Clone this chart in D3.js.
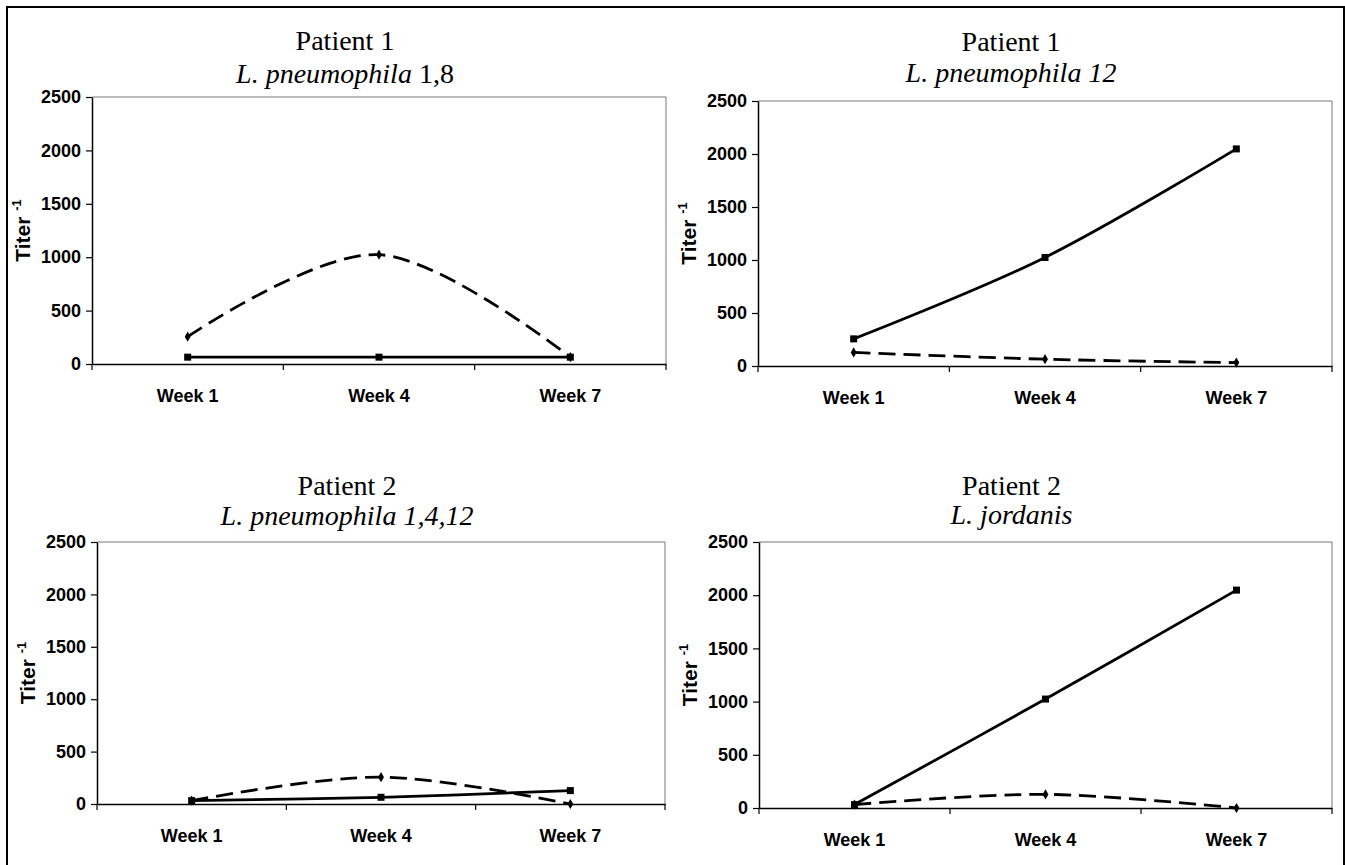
<!DOCTYPE html>
<html>
<head>
<meta charset="utf-8">
<script src="https://cdn.jsdelivr.net/npm/d3@7"></script>
<style>
	body { margin: 0; background: #fff; }
	svg text { fill: #000; }
	.tick-label { font-family: "Liberation Sans", Arial, sans-serif; font-weight: bold; font-size: 18px; }
	.title { font-family: "Liberation Serif", "Times New Roman", serif; font-size: 28px; }
</style>
</head>
<body>
<div class="container"></div>
<script>

const weeks = ["Week 1", "Week 4", "Week 7"];
const yTicks = [0, 500, 1000, 1500, 2000, 2500];

const patients = ["Patient 1", "Patient 1", "Patient 2", "Patient 2"];
const speciesItalic = ["L. pneumophila", "L. pneumophila 12", "L. pneumophila 1,4,12", "L. jordanis"];
const speciesRoman = [" 1,8", "", "", ""];

// solid line, square markers
const solidTiters = [
	[64, 64, 64],
	[256, 1024, 2048],
	[32, 64, 128],
	[32, 1024, 2048]
];
// dashed line, diamond markers
const dashedTiters = [
	[256, 1024, 64],
	[128, 64, 32],
	[32, 256, 0],
	[32, 128, 0]
];

// plot frames of the four panels (scan is not perfectly aligned)
const frames = [
	{ x0: 92, x1: 666, y0: 97, y1: 364, t1: 50, t2: 83 },
	{ x0: 758, x1: 1332, y0: 101, y1: 366, t1: 51, t2: 82 },
	{ x0: 97, x1: 665, y0: 542, y1: 804, t1: 495, t2: 525 },
	{ x0: 759, x1: 1332, y0: 542, y1: 808, t1: 495, t2: 524 }
];

const outerWidth = 1345;
const outerHeight = 865;

const svg = d3.select(".container")
				.append("svg")
					.attr("width", outerWidth)
					.attr("height", outerHeight);

// outer border of the figure
svg.append("rect")
	.attr("x", 7)
	.attr("y", 7)
	.attr("width", outerWidth - 8)
	.attr("height", outerHeight - 6)
	.style("fill", "none")
	.style("stroke", "#000")
	.style("stroke-width", 2);

const curve = d3.curveCardinal.tension(0);

frames.forEach(function(f, i) {

	const width = f.x1 - f.x0;
	const height = f.y1 - f.y0;

	const g = svg.append("g")
				.attr("class", "panel")
				.attr("transform", `translate(${f.x0},${f.y0})`);

	const scaleWeek = d3.scaleBand()
						.domain(weeks)
						.range([0, width]);

	const scaleTiter = d3.scaleLinear()
						.domain([0, 2500])
						.range([height, 0]);

	// plot frame (top / right light)
	g.append("path")
		.attr("d", `M0,0H${width}V${height}`)
		.style("fill", "none")
		.style("stroke", "#777")
		.style("stroke-width", 1);

	// y axis
	const yAxis = g.append("g")
		.call(d3.axisLeft(scaleTiter)
				.tickValues(yTicks)
				.tickFormat(d3.format("d"))
				.tickSize(6).tickPadding(5).tickSizeOuter(0));
	yAxis.select(".domain").style("stroke-width", 1.5);
	yAxis.selectAll(".tick line").style("stroke-width", 1.2);
	yAxis.selectAll(".tick text").attr("class", "tick-label").attr("fill", "#000");

	// x axis, labels in band centers, ticks on band edges
	const xAxis = g.append("g")
		.attr("transform", `translate(0,${height})`)
		.call(d3.axisBottom(scaleWeek).tickSize(0).tickPadding(25).tickSizeOuter(0));
	xAxis.select(".domain").style("stroke-width", 1.5);
	xAxis.selectAll(".tick text").attr("class", "tick-label").attr("fill", "#000");

	xAxis.selectAll(".edge")
		.data(weeks.map((d) => scaleWeek(d)).concat([width])).enter()
		.append("line")
			.attr("class", "edge")
			.attr("x1", (d) => d)
			.attr("x2", (d) => d)
			.attr("y2", 6)
			.style("stroke", "#000")
			.style("stroke-width", 1.2);

	// axis title
	const titleY = g.append("text")
		.attr("class", "tick-label")
		.attr("transform", `translate(${-62},${height / 2}) rotate(-90)`)
		.attr("text-anchor", "middle")
		.style("font-size", "21px");
	titleY.append("tspan").text("Titer ");
	titleY.append("tspan").text("-1").attr("dy", -9).style("font-size", "13px");

	// chart titles
	const cx = width / 2 - 34;
	g.append("text")
		.attr("class", "title")
		.attr("x", cx)
		.attr("y", f.t1 - f.y0)
		.attr("text-anchor", "middle")
		.text(patients[i]);

	const sub = g.append("text")
		.attr("class", "title")
		.attr("x", cx)
		.attr("y", f.t2 - f.y0)
		.attr("text-anchor", "middle");
	sub.append("tspan").style("font-style", "italic").text(speciesItalic[i]);
	if (speciesRoman[i]) sub.append("tspan").text(speciesRoman[i]);

	// series
	const line = d3.line()
		.x((d, k) => scaleWeek(weeks[k]) + scaleWeek.bandwidth() / 2)
		.y((d) => scaleTiter(d))
		.curve(curve);

	g.append("path")
		.datum(dashedTiters[i])
		.attr("d", line)
		.style("fill", "none")
		.style("stroke", "#000")
		.style("stroke-width", 2.8)
		.style("stroke-dasharray", "17,8");

	g.append("path")
		.datum(solidTiters[i])
		.attr("d", line)
		.style("fill", "none")
		.style("stroke", "#000")
		.style("stroke-width", 2.8);

	g.selectAll(".sq")
		.data(solidTiters[i]).enter()
		.append("rect")
			.attr("class", "sq")
			.attr("x", (d, k) => scaleWeek(weeks[k]) + scaleWeek.bandwidth() / 2 - 3.5)
			.attr("y", (d) => scaleTiter(d) - 3.5)
			.attr("width", 7)
			.attr("height", 7)
			.style("fill", "#000");

	g.selectAll(".dm")
		.data(dashedTiters[i]).enter()
		.append("path")
			.attr("class", "dm")
			.attr("d", d3.symbol(d3.symbolDiamond, 30))
			.attr("transform", (d, k) => `translate(${scaleWeek(weeks[k]) + scaleWeek.bandwidth() / 2},${scaleTiter(d)})`)
			.style("fill", "#000");
});

</script>
</body>
</html>
